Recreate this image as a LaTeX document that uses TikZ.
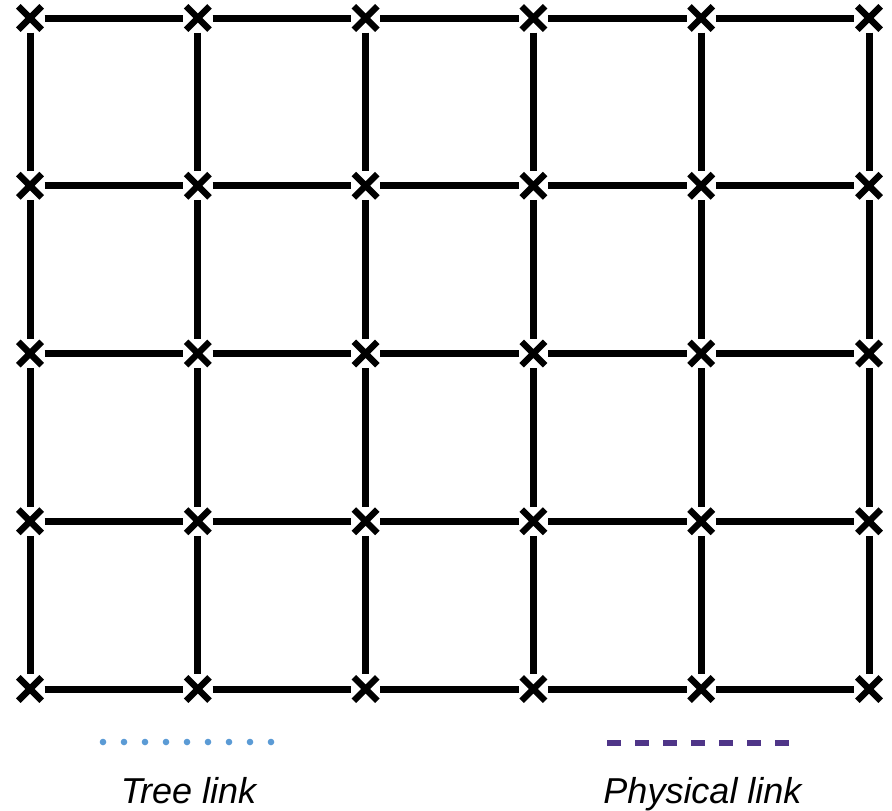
\documentclass[tikz,border=0pt]{standalone}
\usepackage{fontspec}
\setmainfont{Liberation Sans}
\usetikzlibrary{shapes.misc}
\definecolor{treeblue}{HTML}{5B9BD5}
\definecolor{physpurple}{HTML}{4F3588}

\tikzset{
  router/.style={cross out,draw=black,line width=3.2pt,minimum size=8.5pt,inner sep=0pt},
  link/.style={draw=black,line width=3.5pt,shorten <=1.5pt,shorten >=1.5pt},
  legendtext/.style={font=\fontsize{18pt}{21pt}\selectfont\itshape,anchor=base,inner sep=0pt}
}

\begin{document}
\begin{tikzpicture}[x=0.5pt,y=-0.5pt]
\useasboundingbox (0,0) rectangle (892,810);
% routers of the mesh
\foreach \c in {0,...,5}
  \foreach \r in {0,...,4}
    \node[router] (n-\c-\r) at ({30+167.8*\c},{18+167.75*\r}) {};
% horizontal links
\foreach \c [evaluate=\c as \cn using int(\c+1)] in {0,...,4}
  \foreach \r in {0,...,4}
    \draw[link] (n-\c-\r) -- (n-\cn-\r);
% vertical links
\foreach \r [evaluate=\r as \rn using int(\r+1)] in {0,...,3}
  \foreach \c in {0,...,5}
    \draw[link] (n-\c-\r) -- (n-\c-\rn);
% legend
\coordinate (tree-a) at (103,742);
\coordinate (tree-b) at (272,742);
\draw[treeblue,line width=3.3pt,line cap=round,dash pattern=on 0pt off 10.5pt] (tree-a) -- (tree-b);
\node[legendtext] (tree-label) at (188.5,803) {Tree link};
\coordinate (phys-a) at (607,743);
\coordinate (phys-b) at (789,743);
\draw[physpurple,line width=3pt,dash pattern=on 7pt off 7pt] (phys-a) -- (phys-b);
\node[legendtext] (phys-label) at (702.5,803) {Physical link};
\end{tikzpicture}
\end{document}
